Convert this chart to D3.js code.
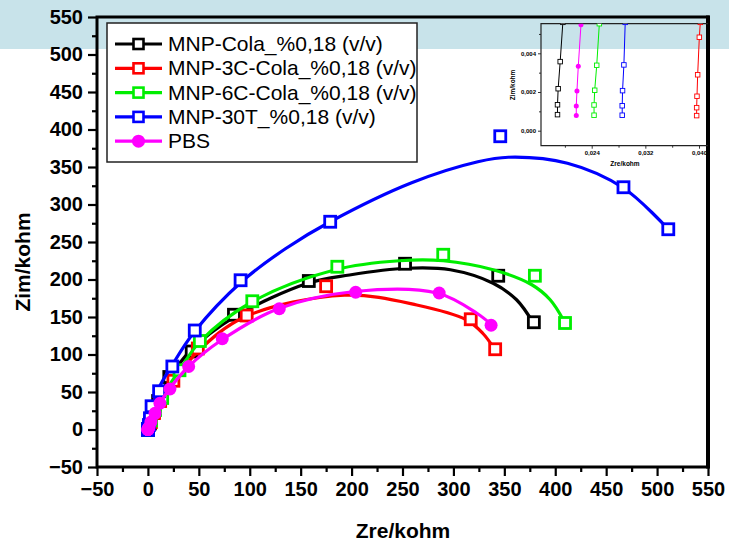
<!DOCTYPE html>
<html><head><meta charset="utf-8">
<script src="https://cdn.jsdelivr.net/npm/d3@7"></script>
<style>
html,body{margin:0;padding:0;background:#fff;}
svg{display:block;font-family:"Liberation Sans",Arial,sans-serif;}
</style></head>
<body><svg id="c" width="729" height="549"></svg>
<script>
// ---------------- DATA ----------------
const seriesNames = ["MNP-Cola_%0,18 (v/v)","MNP-3C-Cola_%0,18 (v/v)","MNP-6C-Cola_%0,18 (v/v)","MNP-30T_%0,18 (v/v)","PBS"];
const seriesColors = ["#000000","#ff0000","#00ee00","#0000ff","#ff00ff"];
const seriesShapes = ["square","square","square","square","circle"];

// measured points (Zre, Zim) in kohm
const blackPts = [[0.0189,0.00083],[0.0189,0.00134],[0.0190,0.00217],[0.0193,0.00357],[0.0197,0.0056],[2,8],[5,22],[10,38],[21,70],[43,104],[84.5,153],[158,198],[252.5,221],[344,205],[379,143]];
const redPts = [[0.03965,0.00078],[0.03965,0.00119],[0.0397,0.00178],[0.0398,0.00289],[0.04005,0.00483],[0.0402,0.0056],[3,10],[6,22],[12,38],[25,65],[49,108],[97,152],[175,191],[317,147],[341,107]];
const greenPts = [[0.02435,0.0008],[0.02435,0.00133],[0.02445,0.00209],[0.02475,0.00338],[0.02514,0.00553],[3,12],[7,26],[14,42],[31,79],[51,118],[102.5,171],[186,217],[290,233],[380,205],[409.6,142]];
const bluePts = [[0.02855,0.0008],[0.02855,0.00129],[0.0286,0.00207],[0.0288,0.0034],[0.0290,0.0056],[1,6],[2,15],[3.6,31],[11,51],[24,84],[46,132],[91,199],[179,277],[346,391],[467,323],[511,267]];
const magentaPts = [[0.0217,0.00078],[0.0217,0.00128],[0.0218,0.00205],[0.0220,0.00333],[0.0224,0.00548],[1,3],[3,10],[7,21.6],[11.8,35],[21.6,54],[40,84],[73,121],[129,161],[204,183],[286,182],[337,139]];

// fitted curves
const blackFit = [[0,0],[4,20],[10,40],[21,68],[41,104],[85,150],[157,195],[198,206],[254,215],[297,213],[339,195],[362,173],[378,143]];
const redFit = [[0,0],[5,20],[12,38],[25,64],[49,104],[95,150],[193,179],[264,166],[313,146],[329,128],[339,110]];
const greenFit = [[0,0],[5,22],[12,40],[31,79],[51,117],[102,170],[184,213],[247,225],[290,225],[339,213],[377,193],[395,173],[408,146]];
const blueFit = [[0,0],[2,13],[10,53],[23,84],[46,131],[92,197],[135,241],[179,277],[259,329],[324,357],[354,363],[412,355],[467,322],[511,267]];
const magentaFit = [[0,0],[5,17],[11.8,35],[21.6,55],[40,84],[72,119],[128,161],[203,184],[284,182],[323,155],[338,139]];

const xTicks = [-50,0,50,100,150,200,250,300,350,400,450,500,550];
const yTicks = [-50,0,50,100,150,200,250,300,350,400,450,500,550];
const insetXTicks = [0.024,0.032,0.040];
const insetYTicks = [0.000,0.002,0.004];

const allPts = [blackPts,redPts,greenPts,bluePts,magentaPts];
const allFits = [blackFit,redFit,greenFit,blueFit,magentaFit];

// ---------------- DRAW ----------------
const svg = d3.select("#c");
svg.append("rect").attr("x",0).attr("y",0).attr("width",729).attr("height",549).attr("fill","#fff");
svg.append("rect").attr("x",0).attr("y",0).attr("width",729).attr("height",49).attr("fill","#c8e3ea");

const L=97,R=708,T=17,B=467;
const x = d3.scaleLinear().domain([-50,550]).range([L,R]);
const y = d3.scaleLinear().domain([-50,550]).range([B,T]);

const defs = svg.append("defs");
defs.append("clipPath").attr("id","mainclip").append("rect").attr("x",L).attr("y",T).attr("width",R-L).attr("height",B-T);

// axes
const fmt = d=>d3.format("d")(d);
const minorX = d3.range(-25,550,50);
const axG = svg.append("g").attr("class","mainaxes");
axG.append("g").attr("transform",`translate(0,${B})`)
  .call(d3.axisBottom(x).tickValues(xTicks).tickFormat(fmt).tickSize(9).tickPadding(6));
axG.append("g").attr("transform",`translate(0,${B})`)
  .call(d3.axisBottom(x).tickValues(minorX).tickFormat("").tickSize(5));
axG.append("g").attr("transform",`translate(${L},0)`)
  .call(d3.axisLeft(y).tickValues(yTicks).tickFormat(fmt).tickSize(9).tickPadding(5));
axG.append("g").attr("transform",`translate(${L},0)`)
  .call(d3.axisLeft(y).tickValues(d3.range(-25,550,50)).tickFormat("").tickSize(5));
axG.selectAll(".tick line").attr("stroke","#000").attr("stroke-width",2.2);
axG.selectAll(".domain").remove();
axG.selectAll(".tick text").attr("font-size",20).attr("font-weight","bold").attr("fill","#000")
  .attr("font-family","'Liberation Sans',Arial,sans-serif");

// titles
svg.append("text").attr("x",403).attr("y",538).attr("text-anchor","middle")
  .attr("font-size",21).attr("font-weight","bold").text("Zre/kohm");
svg.append("text").attr("transform","translate(30,262) rotate(-90)").attr("text-anchor","middle")
  .attr("font-size",21).attr("font-weight","bold").text("Zim/kohm");

// marker drawer
function drawMarkers(g, pts, sx, sy, color, shape, size, sw){
  if(shape==="circle"){
    g.selectAll(null).data(pts).enter().append("circle")
      .attr("cx",d=>sx(d[0])).attr("cy",d=>sy(d[1])).attr("r",size/2).attr("fill",color);
  } else {
    g.selectAll(null).data(pts).enter().append("rect")
      .attr("x",d=>sx(d[0])-size/2).attr("y",d=>sy(d[1])-size/2)
      .attr("width",size).attr("height",size)
      .attr("fill","#fff").attr("stroke",color).attr("stroke-width",sw);
  }
}

// main plot data
const plot = svg.append("g").attr("clip-path","url(#mainclip)");
const line = d3.line().x(d=>x(d[0])).y(d=>y(d[1])).curve(d3.curveCatmullRom.alpha(0.5));
allFits.forEach((f,i)=>{
  const g = plot.append("g");
  g.append("path").attr("d",line(f)).attr("fill","none").attr("stroke",seriesColors[i]).attr("stroke-width",3.2);
  drawMarkers(g, allPts[i], x, y, seriesColors[i], seriesShapes[i], seriesShapes[i]==="circle"?13:11, 2.8);
});

// frame
svg.append("rect").attr("x",L).attr("y",T).attr("width",R-L).attr("height",B-T)
  .attr("fill","none").attr("stroke","#000").attr("stroke-width",3);
svg.append("line").attr("x1",R).attr("x2",R).attr("y1",T-1.5).attr("y2",B+1.5).attr("stroke","#000").attr("stroke-width",4);

// legend
const lg = svg.append("g");
lg.append("rect").attr("x",107).attr("y",23).attr("width",310).attr("height",139)
  .attr("fill","#fff").attr("stroke","#222").attr("stroke-width",1.5);
seriesNames.forEach((n,i)=>{
  const yy = 44 + i*24.3;
  lg.append("line").attr("x1",115).attr("x2",162).attr("y1",yy).attr("y2",yy)
    .attr("stroke",seriesColors[i]).attr("stroke-width",3.2);
  drawMarkers(lg, [[138.5,yy]], d=>d, d=>d, seriesColors[i], seriesShapes[i], seriesShapes[i]==="circle"?13:10, 2.6);
  lg.append("text").attr("x",168).attr("y",yy+7).attr("font-size",21).attr("fill","#000").text(n);
});

// inset
const iL=541, iR=708, iT=23.7, iB=145.7;
const ix = d3.scaleLinear().domain([0.024,0.040]).range([591.7,699]);
const iy = d3.scaleLinear().domain([0,0.004]).range([130.7,53.3]);
defs.append("clipPath").attr("id","insclip").append("rect").attr("x",iL).attr("y",iT).attr("width",iR-iL).attr("height",iB-iT);
const ig = svg.append("g");
ig.append("g").attr("transform",`translate(0,${iB})`)
  .call(d3.axisBottom(ix).tickValues(insetXTicks).tickFormat(d=>d3.format(".3f")(d).replace(".",",")).tickSize(3).tickPadding(2))
  .call(g=>g.select(".domain").remove());
ig.append("g").attr("transform",`translate(0,${iB})`)
  .call(d3.axisBottom(ix).tickValues([0.020,0.028,0.036]).tickFormat("").tickSize(2))
  .call(g=>g.select(".domain").remove());
ig.append("g").attr("transform",`translate(${iL},0)`)
  .call(d3.axisLeft(iy).tickValues(insetYTicks).tickFormat(d=>d3.format(".3f")(d).replace(".",",")).tickSize(3).tickPadding(2))
  .call(g=>g.select(".domain").remove());
ig.append("g").attr("transform",`translate(${iL},0)`)
  .call(d3.axisLeft(iy).tickValues([0.001,0.003,0.005]).tickFormat("").tickSize(2))
  .call(g=>g.select(".domain").remove());
ig.selectAll(".tick line").attr("stroke","#000").attr("stroke-width",0.8);
ig.selectAll(".tick text").attr("font-size",6).attr("font-weight","bold").attr("fill","#000");
ig.append("text").attr("x",625).attr("y",166).attr("text-anchor","middle").attr("font-size",6.5).attr("font-weight","bold").text("Zre/kohm");
ig.append("text").attr("transform","translate(515,85) rotate(-90)").attr("text-anchor","middle").attr("font-size",6.5).attr("font-weight","bold").text("Zim/kohm");

const ip = svg.append("g").attr("clip-path","url(#insclip)");
const iline = d3.line().x(d=>ix(d[0])).y(d=>iy(d[1]));
allPts.forEach((p,i)=>{
  const sub = p.filter(d=>d[0]<0.05);
  ip.append("path").attr("d",iline(sub)).attr("fill","none").attr("stroke",seriesColors[i]).attr("stroke-width",1);
  drawMarkers(ip, sub, ix, iy, seriesColors[i], seriesShapes[i], seriesShapes[i]==="circle"?5:4.5, 0.9);
});
ig.append("path").attr("d",`M${iR},${iT}H${iL}V${iB}H${iR}`).attr("fill","none").attr("stroke","#222").attr("stroke-width",1.2);
</script></body></html>
